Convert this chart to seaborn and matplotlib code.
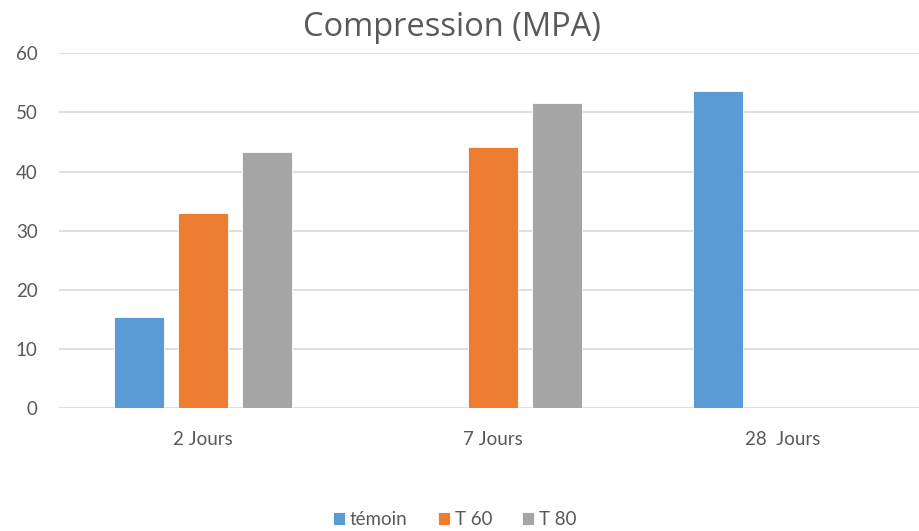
import numpy as np
import pandas as pd
import matplotlib
matplotlib.use("Agg")
import matplotlib.pyplot as plt
import seaborn as sns

# Compressive strength by curing age (MPa); NaN = not measured
ages = ["2 Jours", "7 Jours", "28  Jours"]
series = ["témoin", "T 60", "T 80"]
temoin = [15.5, np.nan, 53.6]
t60 = [33.0, 44.2, np.nan]
t80 = [43.4, 51.6, np.nan]
colors = ["#5B9BD5", "#ED7D31", "#A5A5A5"]
yticks = [0, 10, 20, 30, 40, 50, 60]

df = pd.DataFrame({
    "Age": ages * 3,
    "Serie": [s for s in series for _ in ages],
    "Compression": temoin + t60 + t80,
})

sns.set_theme(style="white")
plt.rcParams["font.family"] = ["Lato", "DejaVu Sans"]
text_color = "#595959"
grid_color = "#D9D9D9"

fig = plt.figure(figsize=(9.19, 5.31), dpi=100)
ax = fig.add_axes([58.5 / 919, 1 - 408.3 / 531, (919 - 58.5) / 919, 355 / 531])

sns.barplot(data=df, x="Age", y="Compression", hue="Serie", order=ages,
            hue_order=series, palette=colors, saturation=1, width=0.663,
            gap=0.22, errorbar=None, edgecolor="white", linewidth=0.6,
            ax=ax, zorder=3)

ax.set_ylim(0, 60)
ax.set_xlim(-0.5, (919 - 58.5) / 289.5 - 0.5)
ax.set_yticks(yticks)
ax.yaxis.grid(True, color=grid_color, linewidth=1.2, zorder=0)
ax.set_axisbelow(True)
for s in ax.spines.values():
    s.set_visible(False)
ax.set_xlabel("")
ax.set_ylabel("")
ax.tick_params(axis="y", length=0, pad=15, labelsize=13.5, labelcolor=text_color)
ax.tick_params(axis="x", length=0, pad=16.5, labelsize=13.5, labelcolor=text_color)

fig.suptitle("Compression (MPA)", x=0.492, y=0.979, va="top",
             fontsize=23.5, color=text_color, family=["Open Sans", "DejaVu Sans"])

handles, labels = ax.get_legend_handles_labels()
ax.legend_.remove()
fig.legend(handles, labels, loc="lower center", bbox_to_anchor=(0.495, -0.026),
           ncol=3, frameon=False, handlelength=0.65, handleheight=0.65,
           handletextpad=0.25, columnspacing=1.6, fontsize=13.5,
           labelcolor=text_color)

fig.savefig("out.png", dpi=100)
